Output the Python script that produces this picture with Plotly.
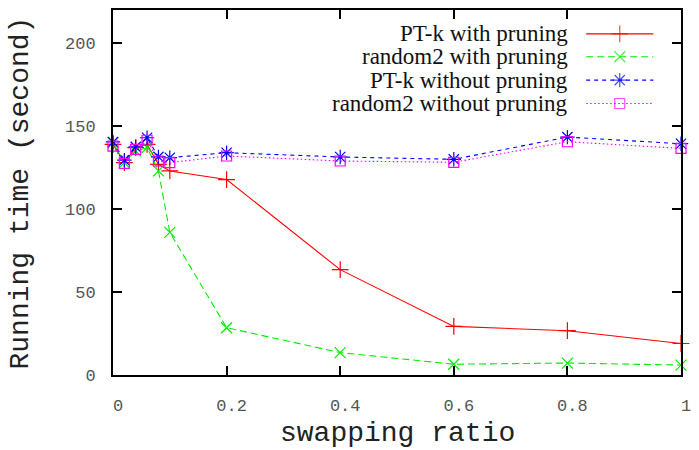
import plotly.graph_objects as go

# ---- data ----
swapping_ratio = [0, 0.02, 0.04, 0.06, 0.08, 0.1, 0.2, 0.4, 0.6, 0.8, 1.0]
ptk_with_pruning = [139, 128, 137, 139, 127, 123, 117.8, 63.5, 29.3, 26.7, 19]
random2_with_pruning = [140, 128, 135, 137, 123, 86, 28.5, 13.5, 6.5, 7.2, 6]
ptk_without_pruning = [140.5, 129.5, 137.5, 143, 131.5, 131, 134, 131.4, 130, 143.4, 139.4]
random2_without_pruning = [138, 127.5, 136, 141.5, 129, 128, 132, 129, 128.2, 140.6, 136.6]

series_names = ["PT-k with pruning", "random2 with pruning",
                "PT-k without pruning", "random2 without pruning"]
series_values = [ptk_with_pruning, random2_with_pruning,
                 ptk_without_pruning, random2_without_pruning]

x_tick_vals = [0, 0.2, 0.4, 0.6, 0.8, 1.0]
x_tick_text = ["0", "0.2", "0.4", "0.6", "0.8", "1"]
y_tick_vals = [0, 50, 100, 150, 200]

# ---- styles ----
colors = ["#ff0000", "#00ee00", "#0000ff", "#ff00ff"]
dashes = ["solid", "7px,4px", "4px,4px", "1.5px,2.5px"]
symbols = ["cross-thin", "x-thin", "asterisk-open", "square-open"]
msizes = [12, 11, 12, 10]

W, H = 699, 450
L, R, T, B = 113, 11, 8, 75

fig = go.Figure()

for name, vals, c, d, s, ms in zip(series_names, series_values, colors, dashes, symbols, msizes):
    fig.add_trace(go.Scatter(
        x=swapping_ratio, y=vals, mode="lines+markers", name=name,
        line=dict(color=c, width=1.1, dash=d),
        marker=dict(symbol=s, size=ms, color=c, line=dict(color=c, width=1.2)),
        cliponaxis=False, showlegend=False,
    ))

# ---- gnuplot-style legend (text left of sample) on a pixel overlay axis ----
plot_left, plot_right = L, W - R
plot_top, plot_bottom = T, H - B
leg_rows = [32, 55, 78.5, 102]
leg_text_right = 576
leg_line = [592, 626, 660]
for name, c, d, s, ms, ry in zip(series_names, colors, dashes, symbols, msizes, leg_rows):
    fig.add_trace(go.Scatter(
        x=leg_line, y=[ry] * 3, mode="lines+markers", xaxis="x2", yaxis="y2",
        line=dict(color=c, width=1.1, dash=d),
        marker=dict(symbol=s, size=[0, ms, 0], color=c, line=dict(color=c, width=1.2)),
        showlegend=False, hoverinfo="skip", cliponaxis=False,
    ))
    fig.add_annotation(
        x=leg_text_right, y=ry, xref="x2", yref="y2", text=name, showarrow=False,
        xanchor="right", yanchor="middle",
        font=dict(family="Liberation Serif", size=23, color="#111"),
    )

axis_common = dict(
    showline=True, linecolor="#000", linewidth=2, mirror="ticks",
    ticks="inside", ticklen=9, tickwidth=1.5, tickcolor="#000",
    showgrid=False, zeroline=False,
    tickfont=dict(family="Liberation Mono", size=17, color="#555"),
)

fig.update_layout(
    width=W, height=H,
    margin=dict(l=L, r=R, t=T, b=B, pad=0),
    paper_bgcolor="white", plot_bgcolor="white",
    xaxis=dict(range=[0, 1], tickvals=x_tick_vals, ticktext=x_tick_text,
               ticklabelstandoff=14, ticklabelshift=5, **axis_common),
    yaxis=dict(range=[0, 220], tickvals=y_tick_vals,
               ticklabelstandoff=12, **axis_common),
    xaxis2=dict(overlaying="x", range=[plot_left, plot_right], visible=False),
    yaxis2=dict(overlaying="y", range=[plot_bottom, plot_top], visible=False),
    showlegend=False,
)

fig.add_annotation(
    x=0.5, y=-0.16, xref="paper", yref="paper", text="swapping ratio",
    showarrow=False, xanchor="center", yanchor="middle", borderpad=0,
    font=dict(family="Liberation Mono", size=28, color="#222"),
)
fig.add_annotation(
    x=-0.162, y=0.5, xref="paper", yref="paper", text="Running time (second)",
    showarrow=False, xanchor="center", yanchor="middle", textangle=-90, borderpad=0,
    font=dict(family="Liberation Mono", size=28, color="#222"),
)

fig.write_html("out.html")
